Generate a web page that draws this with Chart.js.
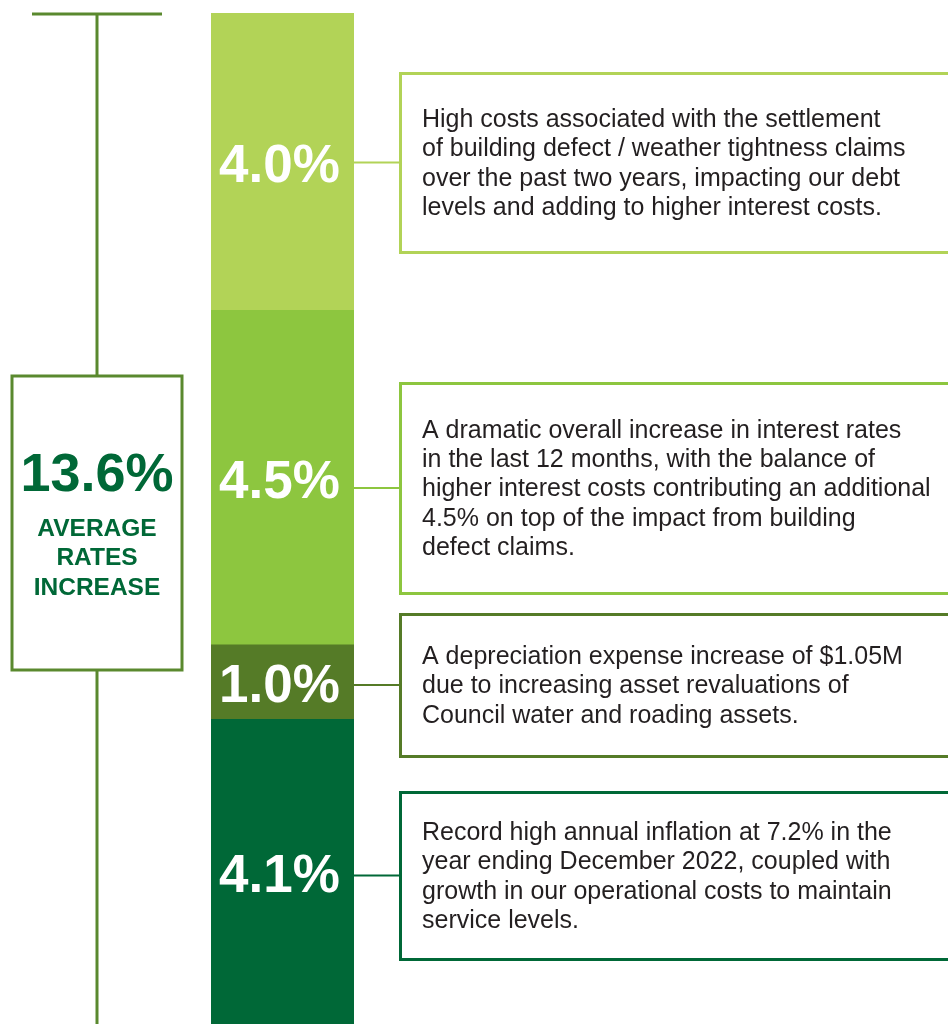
<!DOCTYPE html>
<html>
<head>
<meta charset="utf-8">
<script src="https://cdn.jsdelivr.net/npm/chart.js@4"></script>
<style>
  html, body { margin: 0; padding: 0; background: #ffffff; }
  #wrap { width: 948px; height: 1024px; position: relative; }
</style>
</head>
<body>
<div id="wrap"><canvas id="chart"></canvas></div>
<script>
// rate increase components, bottom of the stack first
const components = ['Inflation', 'Depreciation', 'Interest rates', 'Building defects'];
const increases = [4.1, 1.0, 4.5, 4.0];
const valueLabels = ['4.1%', '1.0%', '4.5%', '4.0%'];
const totalLabel = '13.6%';
const totalCaption = ['AVERAGE', 'RATES', 'INCREASE'];
const notes = [
    ['Record high annual inflation at 7.2% in the',
     'year ending December 2022, coupled with',
     'growth in our operational costs to maintain',
     'service levels.'],
    ['A depreciation expense increase of $1.05M',
     'due to increasing asset revaluations of',
     'Council water and roading assets.'],
    ['A dramatic overall increase in interest rates',
     'in the last 12 months, with the balance of',
     'higher interest costs contributing an additional',
     '4.5% on top of the impact from building',
     'defect claims.'],
    ['High costs associated with the settlement',
     'of building defect / weather tightness claims',
     'over the past two years, impacting our debt',
     'levels and adding to higher interest costs.']
];

const colors = ['#006837', '#557b27', '#8dc63f', '#b2d357'];
const lineColor = '#5a892e';
// note boxes: top and height in pixels, same order as the stack
const boxes = [{ top: 792, h: 167 }, { top: 614, h: 142 }, { top: 383, h: 210 }, { top: 73, h: 179 }];

const total = increases.reduce((a, b) => a + b, 0);

const annotations = {
    id: 'annotations',
    afterDatasetsDraw(chart) {
        const ctx = chart.ctx;
        const area = chart.chartArea;
        ctx.save();

        // summary box and the long bracket line on the left
        ctx.strokeStyle = lineColor;
        ctx.lineWidth = 3;
        ctx.beginPath();
        ctx.moveTo(32, area.top + 1);
        ctx.lineTo(162, area.top + 1);
        ctx.moveTo(97, area.top);
        ctx.lineTo(97, 375);
        ctx.moveTo(97, 671);
        ctx.lineTo(97, area.bottom);
        ctx.stroke();
        ctx.strokeRect(12, 376, 170, 294);

        ctx.fillStyle = '#006837';
        ctx.textAlign = 'center';
        ctx.textBaseline = 'alphabetic';
        ctx.font = 'bold 54px "Liberation Sans", Arial, sans-serif';
        ctx.fillText(totalLabel, 97, 491);
        ctx.font = 'bold 24.5px "Liberation Sans", Arial, sans-serif';
        totalCaption.forEach((t, i) => ctx.fillText(t, 97, 536 + i * 29.3));

        chart.data.datasets.forEach((ds, i) => {
            const bar = chart.getDatasetMeta(i).data[0];
            const mid = (bar.y + bar.base) / 2;
            const right = bar.x + bar.width / 2;

            // value inside the segment
            ctx.fillStyle = '#ffffff';
            ctx.textAlign = 'center';
            ctx.textBaseline = 'alphabetic';
            ctx.font = 'bold 53px "Liberation Sans", Arial, sans-serif';
            ctx.fillText(valueLabels[i], bar.x - 3, mid + 20);

            // connector and note box
            const b = boxes[i];
            const cy = b.top + b.h / 2;
            ctx.strokeStyle = colors[i];
            ctx.lineWidth = 2;
            ctx.beginPath();
            ctx.moveTo(right, cy);
            ctx.lineTo(400, cy);
            ctx.stroke();
            ctx.lineWidth = 3;
            ctx.strokeRect(400.5, b.top + 0.5, 560, b.h);

            ctx.fillStyle = '#231f20';
            ctx.textAlign = 'left';
            ctx.textBaseline = 'middle';
            ctx.font = '25px "Liberation Sans", Arial, sans-serif';
            const lines = notes[i];
            lines.forEach((t, k) => {
                ctx.fillText(t, 422, cy + 1.5 + (k - (lines.length - 1) / 2) * 29.3);
            });
        });
        ctx.restore();
    }
};

new Chart(document.getElementById('chart'), {
    type: 'bar',
    data: {
        labels: ['Rates increase'],
        datasets: components.map((name, i) => ({
            label: name,
            data: [increases[i]],
            backgroundColor: colors[i],
            borderWidth: 0,
            barPercentage: 1,
            categoryPercentage: 1
        }))
    },
    options: {
        responsive: true,
        maintainAspectRatio: false,
        animation: false,
        layout: { padding: { left: 211, right: 594, top: 13, bottom: 0 } },
        plugins: { legend: { display: false }, tooltip: { enabled: false } },
        scales: {
            x: { stacked: true, display: false },
            y: { stacked: true, display: false, min: 0, max: total }
        }
    },
    plugins: [annotations]
});
</script>
</body>
</html>
